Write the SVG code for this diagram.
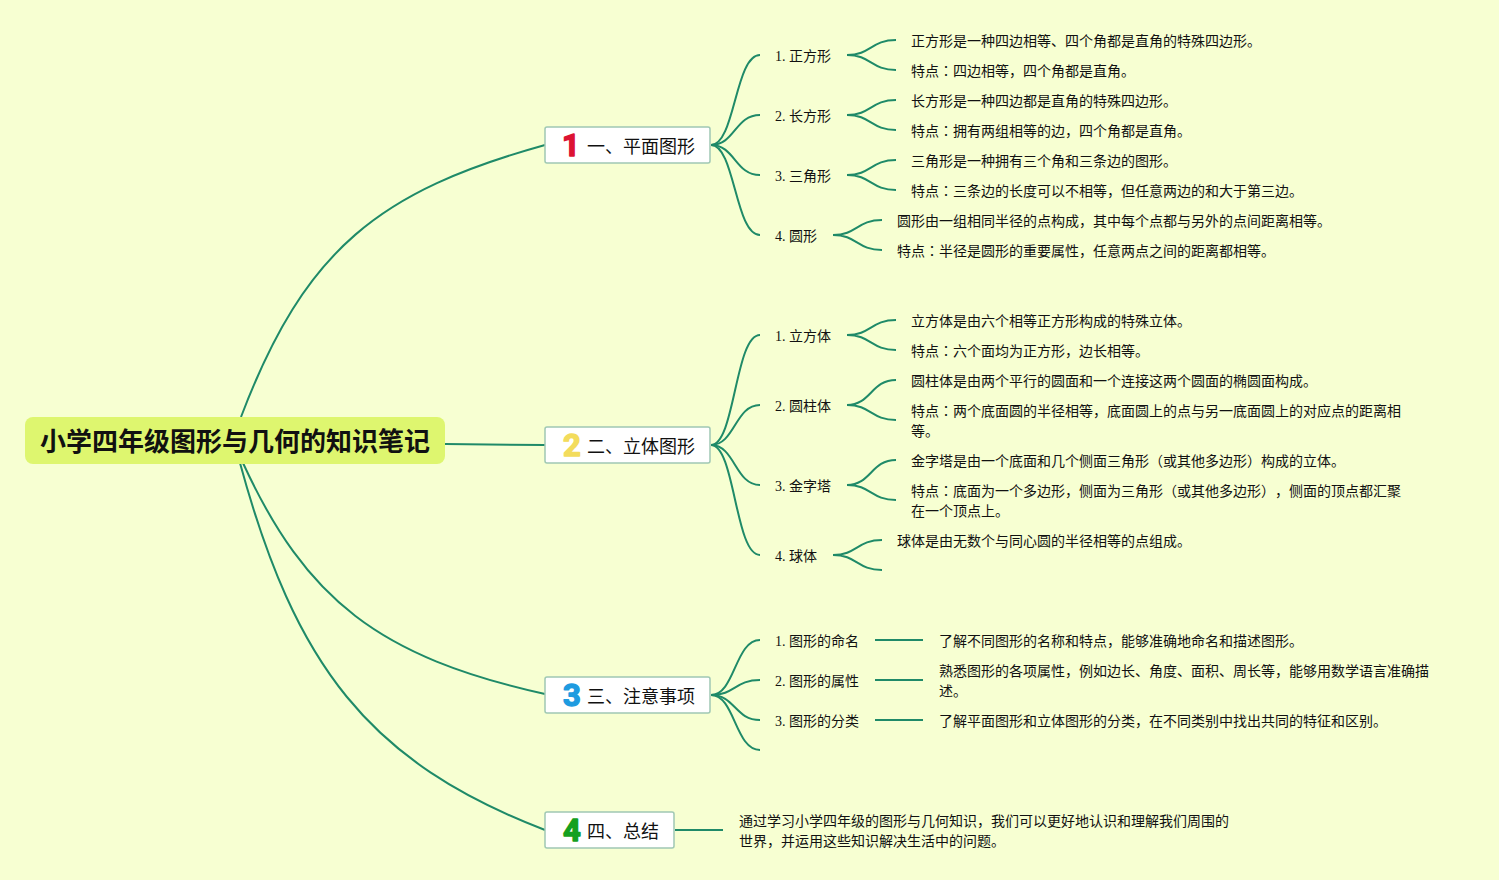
<svg xmlns="http://www.w3.org/2000/svg" width="1499" height="880" viewBox="0 0 1499 880">
<style>
text{font-family:"Liberation Serif","Noto Sans CJK SC",serif;fill:#111;font-feature-settings:"chws" 0,"palt" 0;text-spacing-trim:space-all;font-kerning:none}
.t{font-size:14px}
.b{font-size:18px}
.c{font-family:"Noto Sans CJK JP",sans-serif}
.n{font-family:Roboto,"Liberation Sans",sans-serif;font-size:31px;font-weight:700;text-anchor:middle;stroke-width:1.4px;stroke-linejoin:round}
.box{fill:#fff;stroke:#a0c8b4;stroke-width:1.5}
#connectors path{fill:none;stroke:#1f8a68;stroke-width:2}
</style>
<rect width="1499" height="880" fill="#f7ffd2"/>
<g id="connectors">
<path d="M241 417C305 248 380 191 545 145"/>
<path d="M445 444L545 445"/>
<path d="M243 463C306 600 379 657 545 694"/>
<path d="M240 463C295 665 368 762 545 830"/>
<path d="M711 145C735 145 735 55 760 55"/>
<path d="M711 145C735 145 735 115 760 115"/>
<path d="M711 145C735 145 735 175 760 175"/>
<path d="M711 145C735 145 735 235 760 235"/>
<path d="M711 445C735 445 735 335 760 335"/>
<path d="M711 445C735 445 735 405 760 405"/>
<path d="M711 445C735 445 735 485 760 485"/>
<path d="M711 445C735 445 735 555 760 555"/>
<path d="M711 695C735 695 735 640 760 640"/>
<path d="M711 695C735 695 735 680 760 680"/>
<path d="M711 695C735 695 735 720 760 720"/>
<path d="M711 695C735 695 735 750 760 750"/>
<path d="M847 55C871 55 871 40 896 40M847 55C871 55 871 70 896 70"/>
<path d="M847 115C871 115 871 100 896 100M847 115C871 115 871 130 896 130"/>
<path d="M847 175C871 175 871 160 896 160M847 175C871 175 871 190 896 190"/>
<path d="M833 235C857 235 857 220 882 220M833 235C857 235 857 250 882 250"/>
<path d="M847 335C871 335 871 320 896 320M847 335C871 335 871 350 896 350"/>
<path d="M847 405C871 405 871 380 896 380M847 405C871 405 871 420 896 420"/>
<path d="M847 485C871 485 871 460 896 460M847 485C871 485 871 500 896 500"/>
<path d="M833 555C857 555 857 540 882 540M833 555C857 555 857 570 882 570"/>
<path d="M875 640H923"/>
<path d="M875 680H923"/>
<path d="M875 720H923"/>
<path d="M675 830H723"/>
</g>
<g id="root"><rect x="25" y="417" width="420" height="47" rx="8" fill="#def66f"/><text x="40" y="451" style="font-family:'Liberation Sans','Noto Sans CJK SC',sans-serif;font-size:26px;font-weight:bold">小学四年级图形与几何的知识笔记</text></g>
<g id="b1"><rect class="box" x="545" y="127" width="165" height="36" rx="2"/><text class="n" x="571" y="156" style="fill:#dc1332;stroke:#dc1332">1</text><text class="b" x="587" y="153">一、平面图形</text></g>
<g id="b2"><rect class="box" x="545" y="427" width="165" height="36" rx="2"/><text class="n" x="572" y="456" style="fill:#f3dc5c;stroke:#f3dc5c">2</text><text class="b" x="587" y="453">二、立体图形</text></g>
<g id="b3"><rect class="box" x="545" y="677" width="165" height="36" rx="2"/><text class="n" x="572" y="706" style="fill:#1e9be0;stroke:#1e9be0">3</text><text class="b" x="587" y="703">三、注意事项</text></g>
<g id="b4"><rect class="box" x="545" y="812" width="129" height="36" rx="2"/><text class="n" x="572" y="841" style="fill:#14a020;stroke:#14a020">4</text><text class="b" x="587" y="838">四、总结</text></g>
<g id="n11"><text class="t" x="775" y="61">1. 正方形</text></g>
<g id="n12"><text class="t" x="775" y="121">2. 长方形</text></g>
<g id="n13"><text class="t" x="775" y="181">3. 三角形</text></g>
<g id="n14"><text class="t" x="775" y="241">4. 圆形</text></g>
<g id="n21"><text class="t" x="775" y="341">1. 立方体</text></g>
<g id="n22"><text class="t" x="775" y="411">2. 圆柱体</text></g>
<g id="n23"><text class="t" x="775" y="491">3. 金字塔</text></g>
<g id="n24"><text class="t" x="775" y="561">4. 球体</text></g>
<g id="n31"><text class="t" x="775" y="646">1. 图形的命名</text></g>
<g id="n32"><text class="t" x="775" y="686">2. 图形的属性</text></g>
<g id="n33"><text class="t" x="775" y="726">3. 图形的分类</text></g>
<g id="d111"><text class="t" x="911" y="46">正方形是一种四边相等、四个角都是直角的特殊四边形。</text></g>
<g id="d112"><text class="t" x="911" y="76">特点<tspan class="c">：</tspan>四边相等，四个角都是直角。</text></g>
<g id="d121"><text class="t" x="911" y="106">长方形是一种四边都是直角的特殊四边形。</text></g>
<g id="d122"><text class="t" x="911" y="136">特点<tspan class="c">：</tspan>拥有两组相等的边，四个角都是直角。</text></g>
<g id="d131"><text class="t" x="911" y="166">三角形是一种拥有三个角和三条边的图形。</text></g>
<g id="d132"><text class="t" x="911" y="196">特点<tspan class="c">：</tspan>三条边的长度可以不相等，但任意两边的和大于第三边。</text></g>
<g id="d141"><text class="t" x="897" y="226">圆形由一组相同半径的点构成，其中每个点都与另外的点间距离相等。</text></g>
<g id="d142"><text class="t" x="897" y="256">特点<tspan class="c">：</tspan>半径是圆形的重要属性，任意两点之间的距离都相等。</text></g>
<g id="d211"><text class="t" x="911" y="326">立方体是由六个相等正方形构成的特殊立体。</text></g>
<g id="d212"><text class="t" x="911" y="356">特点<tspan class="c">：</tspan>六个面均为正方形，边长相等。</text></g>
<g id="d221"><text class="t" x="911" y="386">圆柱体是由两个平行的圆面和一个连接这两个圆面的椭圆面构成。</text></g>
<g id="d222"><text class="t" x="911" y="416">特点<tspan class="c">：</tspan>两个底面圆的半径相等，底面圆上的点与另一底面圆上的对应点的距离相</text><text class="t" x="911" y="436">等。</text></g>
<g id="d231"><text class="t" x="911" y="466">金字塔是由一个底面和几个侧面三角形（或其他多边形）构成的立体。</text></g>
<g id="d232"><text class="t" x="911" y="496">特点<tspan class="c">：</tspan>底面为一个多边形，侧面为三角形（或其他多边形）<tspan class="c">，</tspan>侧面的顶点都汇聚</text><text class="t" x="911" y="516">在一个顶点上。</text></g>
<g id="d241"><text class="t" x="897" y="546">球体是由无数个与同心圆的半径相等的点组成。</text></g>
<g id="d311"><text class="t" x="939" y="646">了解不同图形的名称和特点，能够准确地命名和描述图形。</text></g>
<g id="d321"><text class="t" x="939" y="676">熟悉图形的各项属性，例如边长、角度、面积、周长等，能够用数学语言准确描</text><text class="t" x="939" y="696">述。</text></g>
<g id="d331"><text class="t" x="939" y="726">了解平面图形和立体图形的分类，在不同类别中找出共同的特征和区别。</text></g>
<g id="d41"><text class="t" x="739" y="826">通过学习小学四年级的图形与几何知识，我们可以更好地认识和理解我们周围的</text><text class="t" x="739" y="846">世界，并运用这些知识解决生活中的问题。</text></g>
</svg>
